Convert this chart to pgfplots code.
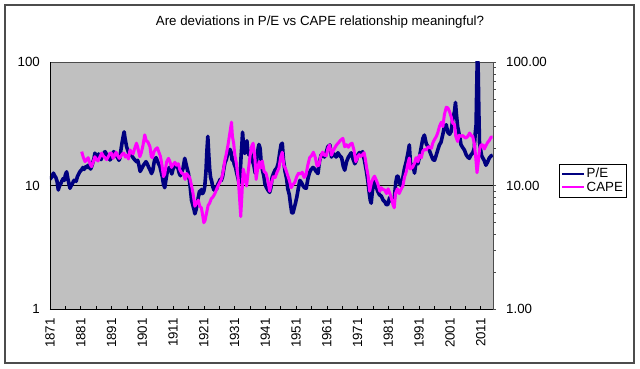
\documentclass[border=0pt]{standalone}
\usepackage{pgfplots}
\pgfplotsset{compat=1.18}
\usepackage{fontspec}
\setmainfont{Liberation Sans}
\definecolor{plotbg}{HTML}{C0C0C0}
\definecolor{pecol}{HTML}{000080}
\definecolor{capecol}{HTML}{FF00FF}
\newcommand{\tf}{\fontsize{13.3}{15}\selectfont}
\begin{document}
\begin{tikzpicture}[x=1pt,y=1pt]
\path (0,0) rectangle (640,368);
\draw[gray!60!black, line width=1.2pt] (5,5) rectangle (634,363);
\node[font=\tf] at (320,346) {Are deviations in P/E vs CAPE relationship meaningful?};
\begin{axis}[
  at={(50pt,59pt)}, anchor=south west,
  scale only axis, width=443pt, height=247pt,
  xmin=1871, xmax=2015,
  ymode=log, ymin=1, ymax=100,
  axis background/.style={fill=plotbg},
  axis line style={draw=gray!60!black},
  xtick={1871,1881,1891,1901,1911,1921,1931,1941,1951,1961,1971,1981,1991,2001,2011},
  xticklabels={1871,1881,1891,1901,1911,1921,1931,1941,1951,1961,1971,1981,1991,2001,2011},
  minor xtick={1876,1886,1896,1906,1916,1926,1936,1946,1956,1966,1976,1986,1996,2006},
  xtick pos=bottom, tick align=inside,
  major tick length=3pt, minor tick length=3pt,
  x tick style={black, line width=0.6pt},
  minor x tick style={black, line width=0.6pt},
  xticklabel style={font=\tf, rotate=90, anchor=east, inner sep=0pt},
  xticklabel shift=9pt,
  ytick={1,10,100}, yticklabels={1,10,100},
  ytick pos=left,
  y tick style={draw=none},
  yticklabel style={font=\tf, inner sep=0pt, anchor=east},
  yticklabel shift=10pt,
  extra y ticks={10}, extra y tick labels={},
  extra y tick style={ymajorgrids=true, major grid style={black, line width=0.7pt}},
  /pgf/number format/assume math mode=true,
  legend style={at={(1.149,0.587)}, anchor=north west, draw=black, fill=white,
    font=\tf, inner xsep=2pt, inner ysep=2.5pt, row sep=0pt,
    nodes={inner xsep=1.5pt, inner ysep=1pt, text height=9.6pt, text depth=2.2pt}},
  legend cell align=left,
  legend image code/.code={\draw[#1, line width=2pt] (0pt,0pt) -- (22pt,0pt);},
]
\addplot[pecol, line width=3.6pt, line join=round] table {
x y
1871.0 11.2
1871.4 11.6
1871.8 12.0
1872.1 12.6
1872.5 12.0
1872.9 11.6
1873.3 10.8
1873.7 9.2
1874.0 9.8
1874.4 10.2
1874.8 10.8
1875.3 11.4
1875.7 11.0
1876.0 12.2
1876.4 12.9
1876.8 11.4
1877.2 10.2
1877.5 9.5
1877.9 10.0
1878.3 10.4
1878.7 10.9
1879.1 11.1
1879.5 10.8
1879.9 11.8
1880.2 12.2
1880.6 12.8
1881.0 13.2
1881.3 13.4
1881.7 14.0
1882.1 13.5
1882.6 14.2
1883.0 14.0
1883.4 14.6
1883.8 14.0
1884.2 13.6
1884.6 14.4
1885.0 15.6
1885.3 16.5
1885.6 18.3
1886.0 17.2
1886.4 16.8
1886.8 18.0
1887.2 17.0
1887.6 16.2
1888.0 17.5
1888.4 18.2
1888.9 18.8
1889.3 18.0
1889.7 17.2
1890.1 17.0
1890.5 16.1
1890.9 16.6
1891.3 17.8
1891.7 18.8
1892.1 18.3
1892.5 17.5
1893.0 16.8
1893.4 16.0
1893.7 16.6
1894.0 19.0
1894.4 22.0
1894.8 25.0
1895.1 27.2
1895.4 24.0
1895.9 20.6
1896.3 19.2
1896.7 18.0
1897.1 18.6
1897.5 17.6
1898.0 16.8
1898.5 16.2
1899.1 15.6
1899.5 16.0
1899.9 14.6
1900.3 13.0
1900.8 13.7
1901.3 14.5
1901.8 15.1
1902.2 15.6
1902.6 15.0
1903.0 14.2
1903.5 13.4
1904.0 12.5
1904.4 13.2
1904.8 15.2
1905.1 16.4
1905.5 16.8
1905.9 15.8
1906.3 15.0
1906.7 14.3
1907.1 13.0
1907.5 11.8
1907.9 10.2
1908.3 9.6
1908.7 11.2
1909.1 12.8
1909.4 13.4
1909.8 14.0
1910.2 13.4
1910.6 12.4
1911.0 13.6
1911.4 14.5
1911.8 14.9
1912.2 14.2
1912.6 13.8
1913.0 12.6
1913.4 12.0
1913.8 12.9
1914.2 13.6
1914.5 15.0
1914.8 16.6
1915.2 15.0
1915.6 13.6
1916.0 12.5
1916.4 10.6
1916.8 8.6
1917.0 7.6
1917.4 7.0
1917.8 6.4
1918.1 5.9
1918.5 6.4
1918.9 7.2
1919.2 8.0
1919.6 9.0
1920.0 8.6
1920.2 9.3
1920.6 8.6
1921.0 9.0
1921.3 9.8
1921.7 13.0
1922.0 19.0
1922.3 25.0
1922.6 18.0
1922.9 13.6
1923.2 11.6
1923.5 11.0
1923.9 9.8
1924.3 9.2
1924.7 9.6
1925.1 9.3
1925.5 10.2
1925.9 10.6
1926.3 11.2
1926.7 11.0
1927.1 11.8
1927.5 13.6
1927.9 15.4
1928.3 16.2
1928.7 17.8
1929.1 19.0
1929.5 19.6
1929.9 18.5
1930.2 16.0
1930.5 17.0
1930.9 14.8
1931.3 14.0
1931.7 12.6
1932.1 11.5
1932.5 10.4
1932.8 12.0
1933.1 17.0
1933.4 22.0
1933.6 27.0
1933.9 21.0
1934.3 18.2
1934.6 21.0
1935.0 23.0
1935.3 19.0
1935.7 17.6
1936.1 19.0
1936.5 17.0
1936.9 15.6
1937.3 14.4
1937.7 12.6
1938.1 15.2
1938.5 19.0
1938.9 21.5
1939.3 20.0
1939.7 14.8
1940.1 13.2
1940.5 12.0
1940.9 10.2
1941.4 9.6
1941.8 9.2
1942.4 8.8
1942.8 9.6
1943.2 11.6
1943.7 12.6
1944.2 13.4
1944.7 13.8
1945.2 15.2
1945.7 18.6
1946.1 21.4
1946.5 22.0
1946.9 16.0
1947.4 13.0
1947.9 11.4
1948.3 9.4
1948.8 8.4
1949.2 7.0
1949.6 6.0
1950.0 6.0
1950.4 6.6
1950.8 7.2
1951.2 8.0
1951.7 9.4
1952.2 11.0
1952.7 10.6
1953.2 10.0
1953.7 9.6
1954.3 9.5
1954.8 11.2
1955.3 12.6
1955.8 13.4
1956.5 14.0
1957.0 13.6
1957.5 13.0
1958.1 12.5
1958.6 15.6
1959.1 17.6
1959.6 18.0
1960.2 17.0
1960.8 18.6
1961.3 20.6
1962.0 21.3
1962.5 17.0
1963.0 17.8
1963.6 18.0
1964.0 17.0
1964.6 18.4
1965.2 17.4
1965.8 16.8
1966.3 14.4
1966.8 13.3
1967.4 15.6
1968.0 17.0
1968.4 17.6
1968.9 18.4
1969.5 16.4
1970.1 15.0
1970.6 16.0
1971.0 17.6
1971.6 18.5
1972.1 18.0
1972.6 18.8
1973.2 16.0
1973.8 13.3
1974.3 11.0
1974.8 8.6
1975.1 7.6
1975.4 7.2
1975.8 9.0
1976.2 10.6
1976.5 11.0
1977.0 9.8
1977.5 9.0
1978.1 8.4
1978.7 8.2
1979.3 7.6
1979.8 7.4
1980.3 7.0
1980.8 7.0
1981.4 8.0
1981.9 7.6
1982.5 7.3
1982.9 7.8
1983.4 10.6
1983.8 11.9
1984.1 11.9
1984.6 10.5
1985.2 9.9
1985.7 11.6
1986.2 13.7
1986.8 15.6
1987.3 18.0
1987.8 21.3
1988.2 14.6
1988.9 14.8
1989.5 12.6
1990.0 15.7
1990.6 15.0
1991.2 17.6
1991.7 20.6
1992.2 24.0
1992.7 25.6
1993.3 21.8
1993.9 20.6
1994.4 19.0
1994.9 17.6
1995.5 16.2
1996.0 16.0
1996.6 17.8
1997.1 19.6
1997.6 21.4
1998.1 22.4
1998.7 26.0
1999.2 30.0
1999.8 31.0
2000.3 27.0
2000.9 26.0
2001.4 27.4
2001.9 34.0
2002.5 40.0
2002.8 47.0
2003.1 38.0
2003.5 30.0
2004.1 25.4
2004.6 21.4
2005.2 20.2
2005.7 19.4
2006.3 17.7
2006.8 17.0
2007.3 16.6
2007.9 17.8
2008.4 18.3
2008.9 20.0
2009.2 26.0
2009.5 31.0
2009.7 60.0
2009.9 110.0
2010.0 125.0
2010.2 80.0
2010.4 40.0
2010.6 22.4
2010.9 20.0
2011.3 17.4
2011.7 16.7
2012.2 15.8
2012.7 14.6
2013.2 15.4
2013.8 16.7
2014.4 17.4
2014.9 17.6
};
\addlegendentry{P/E}
\addplot[capecol, line width=3pt, line join=round] table {
x y
1881.3 18.8
1881.8 17.0
1882.4 15.6
1882.9 16.2
1883.4 16.8
1884.0 15.0
1884.5 14.2
1885.0 15.4
1885.6 17.1
1886.1 16.2
1886.6 15.8
1887.2 17.0
1887.8 18.3
1888.4 17.2
1888.9 16.8
1889.4 16.2
1890.0 17.2
1890.5 18.3
1891.0 18.3
1891.5 16.6
1892.0 17.6
1892.5 18.6
1893.0 17.4
1893.5 16.6
1894.0 17.2
1894.5 18.0
1895.0 18.3
1895.5 17.0
1896.0 17.6
1896.5 16.4
1897.0 19.4
1897.5 18.6
1898.0 18.0
1898.6 20.2
1899.1 22.0
1899.5 20.5
1900.2 17.1
1900.7 18.5
1901.2 21.0
1901.8 25.7
1902.3 23.0
1902.8 22.6
1903.5 20.6
1903.9 17.2
1904.3 16.8
1904.8 18.8
1905.4 19.8
1905.9 20.2
1906.4 18.6
1906.9 17.2
1907.4 14.6
1907.9 11.8
1908.3 12.4
1908.9 15.5
1909.5 16.6
1910.0 15.6
1910.5 14.0
1911.0 14.8
1911.6 15.4
1912.1 14.6
1912.7 15.0
1913.2 13.4
1913.8 12.6
1914.4 12.4
1914.9 11.2
1915.4 12.5
1915.9 12.0
1916.4 11.6
1917.0 10.0
1917.5 8.6
1918.1 6.8
1918.6 7.2
1919.2 7.6
1919.7 6.8
1920.2 6.6
1920.6 5.8
1921.0 5.0
1921.4 5.2
1921.9 6.0
1922.4 6.9
1922.9 7.2
1923.4 7.8
1924.0 8.1
1924.6 8.6
1925.2 9.4
1925.7 10.0
1926.2 10.6
1926.8 11.4
1927.3 13.0
1927.8 15.8
1928.4 18.5
1928.9 21.6
1929.5 27.0
1930.0 32.6
1930.3 25.0
1930.7 22.0
1931.1 17.6
1931.6 15.0
1932.2 11.2
1932.6 8.0
1933.0 5.6
1933.4 8.5
1933.8 13.6
1934.3 12.0
1934.9 9.9
1935.4 12.8
1936.0 17.2
1936.5 20.6
1937.0 22.0
1937.6 17.0
1938.0 11.2
1938.5 13.6
1939.0 15.6
1939.5 13.8
1940.0 15.8
1940.6 13.0
1941.2 12.6
1941.8 11.0
1942.4 9.0
1943.0 10.6
1943.6 11.8
1944.2 11.6
1944.8 12.8
1945.4 13.8
1946.0 17.0
1946.5 18.6
1947.0 14.6
1947.6 13.6
1948.2 12.2
1948.8 11.0
1949.4 9.6
1950.0 10.2
1950.6 10.6
1951.2 11.8
1951.8 12.6
1952.4 12.4
1953.0 12.8
1953.6 11.6
1954.2 12.2
1954.8 14.6
1955.4 16.8
1956.0 17.4
1956.6 18.6
1957.2 17.0
1957.8 14.4
1958.4 14.6
1959.0 17.2
1959.6 18.6
1960.2 17.6
1960.8 17.4
1961.4 20.2
1961.9 21.3
1962.5 17.6
1963.0 19.0
1963.6 20.2
1964.2 21.4
1964.8 22.2
1965.4 23.2
1966.2 24.1
1966.8 20.6
1967.4 21.4
1968.0 20.4
1968.6 21.6
1969.2 22.0
1969.8 19.4
1970.4 15.6
1970.9 16.8
1971.5 17.8
1972.0 17.2
1972.6 17.8
1973.1 18.4
1973.5 16.4
1973.9 14.0
1974.4 12.0
1974.9 9.0
1975.5 10.6
1976.0 11.4
1976.5 11.9
1977.1 11.0
1977.6 10.2
1978.2 9.0
1978.7 9.6
1979.2 9.3
1979.8 9.2
1980.4 8.6
1980.9 9.4
1981.5 8.6
1982.0 7.8
1982.5 7.0
1982.9 6.6
1983.3 8.6
1983.9 9.4
1984.5 8.6
1985.1 9.3
1985.7 9.9
1986.2 11.6
1986.8 12.9
1987.3 15.0
1987.8 16.7
1988.1 13.6
1988.9 14.1
1989.5 15.2
1990.0 16.8
1990.6 15.6
1991.1 17.6
1991.7 16.8
1992.2 19.0
1992.8 19.6
1993.3 19.4
1993.9 20.6
1994.4 20.4
1995.0 20.0
1995.4 22.0
1996.0 23.6
1996.6 25.0
1997.1 27.0
1997.6 30.1
1998.2 32.5
1998.7 30.0
1999.2 37.5
1999.8 43.0
2000.3 42.6
2000.8 40.0
2001.4 36.0
2001.9 32.0
2002.5 31.0
2002.9 25.0
2003.5 22.7
2004.0 25.5
2004.6 25.0
2005.2 25.4
2005.7 24.6
2006.2 24.2
2006.8 25.0
2007.4 26.6
2007.9 25.4
2008.4 25.0
2008.9 22.0
2009.3 17.8
2009.8 12.7
2010.1 14.6
2010.6 19.4
2011.1 21.4
2011.7 21.3
2012.2 19.8
2012.7 21.0
2013.2 22.2
2013.8 23.2
2014.4 24.7
2014.9 24.7
};
\addlegendentry{CAPE}
\draw[black, line width=0.8pt] (rel axis cs:0,0) -- (rel axis cs:0,1);
\draw[black, line width=0.8pt] (rel axis cs:0,0) -- (rel axis cs:1,0);
\end{axis}
\begin{axis}[
  at={(50pt,59pt)}, anchor=south west,
  scale only axis, width=443pt, height=247pt,
  xmin=1871, xmax=2015,
  ymode=log, ymin=1, ymax=100,
  hide x axis,
  axis y line*=right,
  axis line style={draw=gray!60!black},
  ytick={1,10,100}, yticklabels={1.00,10.00,100.00},
  tick align=outside, major tick length=3pt,
  y tick style={gray!60!black, line width=0.6pt},
  yticklabel style={font=\tf, inner sep=0pt, anchor=west},
  yticklabel shift=10pt,
  /pgf/number format/assume math mode=true,
]
\end{axis}
\end{tikzpicture}
\end{document}
